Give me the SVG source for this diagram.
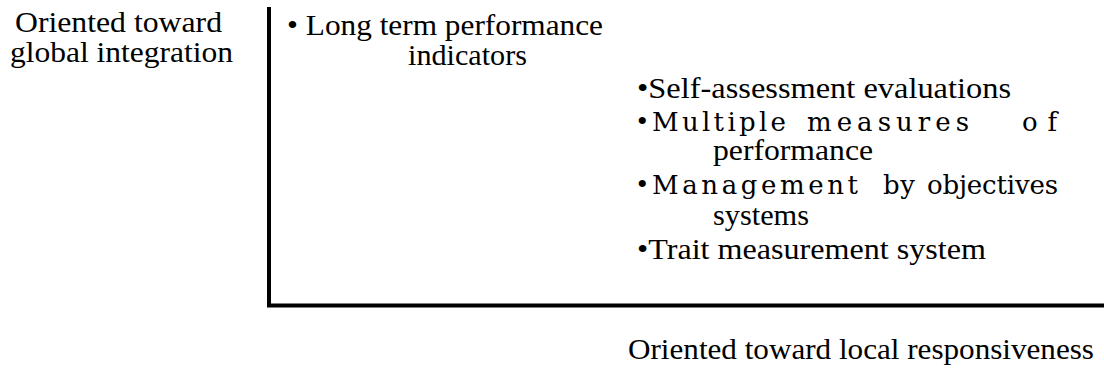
<svg xmlns="http://www.w3.org/2000/svg" width="1104" height="375" viewBox="0 0 1104 375">
  <style>
    text { font-family: "Liberation Serif", "Times New Roman", serif; font-size: 30px; fill: #000; }
    .spaced { font-family: "DejaVu Serif", "Liberation Serif", serif; font-size: 26px; }
    .axis { stroke: #000; stroke-width: 4; fill: none; }
  </style>
  <rect width="1104" height="375" fill="#fff"/>

  <!-- axes -->
  <g id="connectors">
    <path class="axis" d="M269,7 V305.5 H1104"/>
  </g>

  <!-- vertical axis label -->
  <g id="label-global">
    <text x="118.5" y="32" text-anchor="middle" textLength="207" lengthAdjust="spacingAndGlyphs">Oriented toward</text>
    <text x="121.5" y="62" text-anchor="middle" textLength="223" lengthAdjust="spacingAndGlyphs">global integration</text>
  </g>

  <!-- top-left practice -->
  <g id="item-long-term">
    <text x="287" y="35" textLength="316" lengthAdjust="spacingAndGlyphs">• Long term performance</text>
    <text x="408" y="65" textLength="119" lengthAdjust="spacingAndGlyphs">indicators</text>
  </g>

  <!-- lower-right practices -->
  <g id="items-local">
    <text x="637" y="98" textLength="374" lengthAdjust="spacingAndGlyphs">•Self-assessment evaluations</text>

    <text x="637" y="131">•</text>
    <text class="spaced" x="652" y="131" textLength="134" lengthAdjust="spacing">Multiple</text>
    <text class="spaced" x="807" y="131" textLength="162" lengthAdjust="spacing">measures</text>
    <text class="spaced" x="1022" y="131" textLength="35" lengthAdjust="spacing">of</text>
    <text x="713" y="160" textLength="160" lengthAdjust="spacingAndGlyphs">performance</text>

    <text x="637" y="194">•</text>
    <text class="spaced" x="652" y="194" textLength="206" lengthAdjust="spacing">Management</text>
    <text class="spaced" x="883" y="194" textLength="32" lengthAdjust="spacing">by</text>
    <text class="spaced" x="927" y="194" textLength="131" lengthAdjust="spacing">objectives</text>
    <text x="713" y="225" textLength="96" lengthAdjust="spacingAndGlyphs">systems</text>

    <text x="637" y="259" textLength="349" lengthAdjust="spacingAndGlyphs">•Trait measurement system</text>
  </g>

  <!-- horizontal axis label -->
  <g id="label-local">
    <text x="628" y="359" textLength="466" lengthAdjust="spacingAndGlyphs">Oriented toward local responsiveness</text>
  </g>
</svg>
